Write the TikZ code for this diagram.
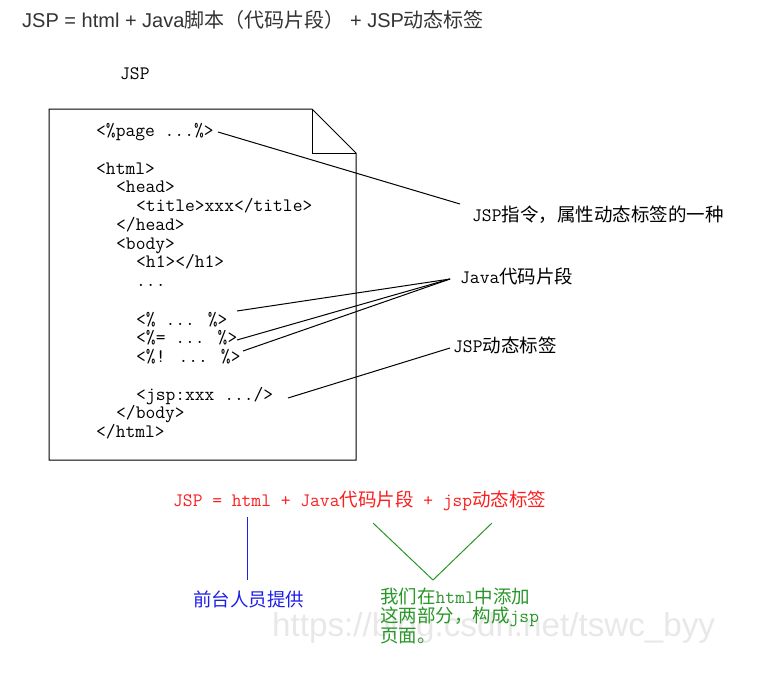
\documentclass[tikz,border=0pt]{standalone}
\usepackage{fontspec}
\setmainfont{Liberation Sans}
\newfontfamily\cjk{Noto Sans CJK SC}
\newfontfamily\titlefont{Liberation Sans}
\newcommand\zh[1]{{\fontsize{18.5}{18.5}\selectfont\cjk #1}}
\newcommand\tzh[1]{{\fontsize{20}{20}\selectfont\cjk #1}}
\definecolor{titlegray}{RGB}{51,51,51}
\definecolor{redtxt}{RGB}{250,30,30}
\definecolor{bluetxt}{RGB}{30,30,235}
\definecolor{greentxt}{RGB}{40,150,40}
\tikzset{
  code/.style={anchor=base west, inner sep=0pt, font=\fontsize{19}{19}\selectfont\ttfamily},
  label/.style={anchor=base west, inner sep=0pt, font=\fontsize{19}{19}\selectfont\ttfamily},
  conn/.style={draw=black, line width=1pt},
  doc/.style={draw=black, line width=1pt, line join=miter},
}
\begin{document}
\begin{tikzpicture}[x=1pt, y=-1pt]
\useasboundingbox (0,0) rectangle (784,672);
% watermark
\node[anchor=base west, inner sep=0pt, text=black!9, font=\fontsize{33.2}{33.2}\selectfont] (wm) at (272,636) {https://blog.csdn.net/tswc\_byy};
% title
\node[anchor=base west, inner sep=0pt, text=titlegray, font=\fontsize{20}{20}\selectfont\titlefont] (title) at (22,27)
  {JSP = html + Java\tzh{脚本（代码片段）}\ + JSP\tzh{动态标签}};
\node[code] (jsp) at (120,79) {JSP};
% document page
\draw[doc] (49,109) -- (312,109) -- (356,153) -- (356,460) -- (49,460) -- cycle;
\draw[doc] (312,109) -- (312,153) -- (356,153);
% code lines
\node[code] (l0)  at (96,136.5) {<\%page ...\%>};
\node[code] (l2)  at (96,174)   {<html>};
\node[code] (l3)  at (116,192.75) {<head>};
\node[code] (l4)  at (136,211.5) {<title>xxx</title>};
\node[code] (l5)  at (116,230.25) {</head>};
\node[code] (l6)  at (116,249) {<body>};
\node[code] (l7)  at (136,267.75) {<h1></h1>};
\node[code] (l8)  at (136,286.5) {...};
\node[code] (l10) at (136,325) {<\% ... \%>};
\node[code] (l11) at (136,343.5) {<\%= ... \%>};
\node[code] (l12) at (136,362) {<\%! ... \%>};
\node[code] (l14) at (136,400) {<jsp:xxx .../>};
\node[code] (l15) at (116,418.5) {</body>};
\node[code] (l16) at (96,437) {</html>};
% labels
\node[label] (lab1) at (472,221) {JSP\zh{指令，属性动态标签的一种}};
\node[label] (lab2) at (460,283) {Java\zh{代码片段}};
\node[label] (lab3) at (453,352) {JSP\zh{动态标签}};
% connector ends
\coordinate (a1) at (218,132);
\coordinate (b1) at (460,204);
\coordinate (a2) at (237,311);
\coordinate (a3) at (237,340);
\coordinate (a4) at (243,351);
\coordinate (b2) at (450,279);
\coordinate (a5) at (288,398);
\coordinate (b3) at (450,348);
\draw[conn] (a1) -- (b1);
\draw[conn] (a2) -- (b2);
\draw[conn] (a3) -- (b2);
\draw[conn] (a4) -- (b2);
\draw[conn] (a5) -- (b3);
% formula
\node[label, text=redtxt] (formula) at (173,506) {JSP = html + Java\zh{代码片段} + jsp\zh{动态标签}};
\node[label, text=bluetxt] (front) at (193,606) {\zh{前台人员提供}};
\node[label, text=greentxt, align=left, font=\fontsize{19}{19.2}\selectfont\ttfamily] (add) at (380,642)
  {\zh{我们在}html\zh{中添加}\\\zh{这两部分，构成}jsp\\\zh{页面。}};
\coordinate (bl1) at (247.5,517);
\coordinate (bl2) at (247.5,580);
\draw[draw=bluetxt, line width=1.3pt] (bl1) -- (bl2);
\coordinate (g1) at (373,523);
\coordinate (g2) at (433,580);
\coordinate (g3) at (492,523);
\draw[draw=greentxt, line width=1pt] (g1) -- (g2) -- (g3);
\end{tikzpicture}
\end{document}
